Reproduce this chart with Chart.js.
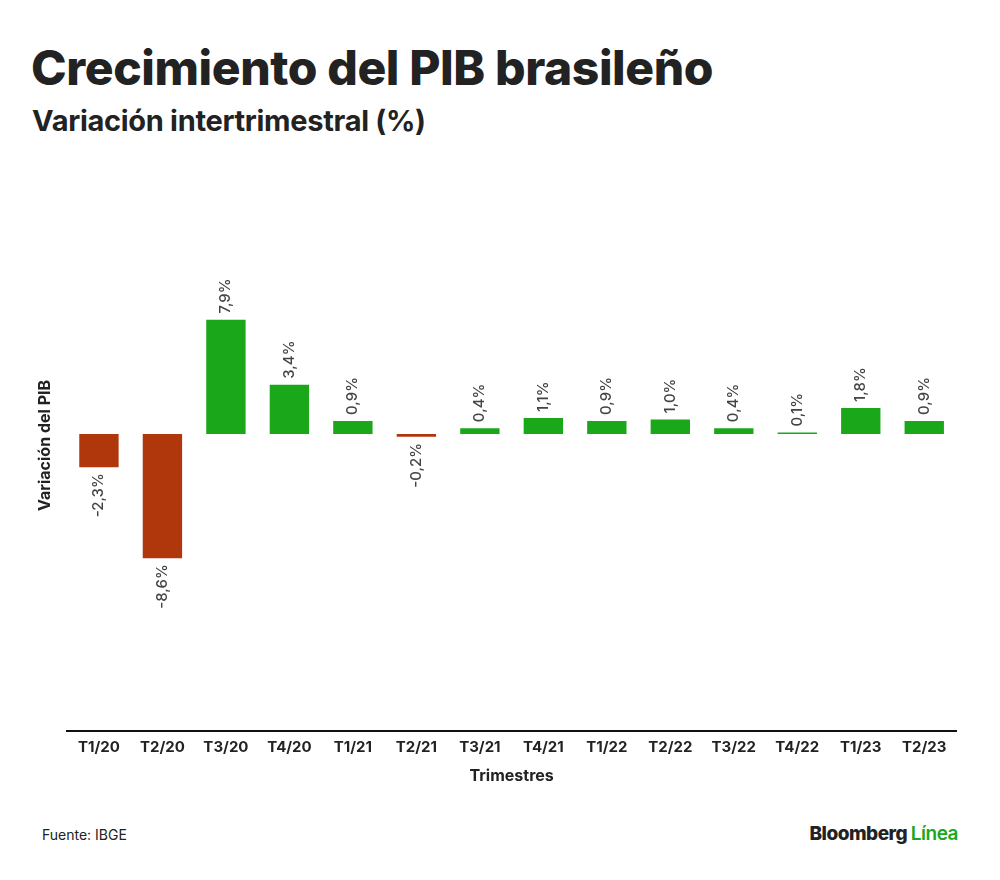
<!DOCTYPE html>
<html><head><meta charset="utf-8">
<script src="https://cdn.jsdelivr.net/npm/chart.js@4"></script>
<style>
body{margin:0;width:1000px;height:880px;background:#fff;font-family:Inter,"Open Sans",sans-serif;position:relative;color:#222}
h1{position:absolute;left:31px;top:38px;margin:0;font-size:48px;font-weight:800;letter-spacing:-0.4px}
h2{position:absolute;left:32px;top:103px;margin:0;font-size:29px;font-weight:700;letter-spacing:-0.3px}
#wrap{position:absolute;left:26px;top:160px;width:944px;height:630px}
.src{position:absolute;left:42px;top:826px;font-size:14px}
.brand{position:absolute;right:42px;top:822px;font-size:19px;font-weight:800;letter-spacing:-0.5px}
.brand span{color:#1aa81a;font-weight:600}
</style></head><body>
<h1>Crecimiento del PIB brasileño</h1>
<h2>Variación intertrimestral (%)</h2>
<div id="wrap"><canvas id="c"></canvas></div>
<div class="src">Fuente: IBGE</div>
<div class="brand">Bloomberg <span>Línea</span></div>
<script>
const trimestres = ['T1/20','T2/20','T3/20','T4/20','T1/21','T2/21','T3/21','T4/21','T1/22','T2/22','T3/22','T4/22','T1/23','T2/23'];
const variacion = [-2.3,-8.6,7.9,3.4,0.9,-0.2,0.4,1.1,0.9,1.0,0.4,0.1,1.8,0.9];

const etiquetas = {
  id: 'etiquetas',
  afterDatasetsDraw(chart) {
    const ctx = chart.ctx;
    const meta = chart.getDatasetMeta(0);
    ctx.save();
    ctx.font = '500 15px Inter, sans-serif';
    ctx.fillStyle = '#444';
    ctx.textBaseline = 'middle';
    meta.data.forEach((bar, i) => {
      const v = variacion[i];
      const txt = v.toFixed(1).replace('.', ',') + '%';
      ctx.save();
      ctx.translate(bar.x, bar.y + (v >= 0 ? -6 : 6));
      ctx.rotate(-Math.PI / 2);
      ctx.textAlign = v >= 0 ? 'left' : 'right';
      ctx.fillText(txt, 0, 0);
      ctx.restore();
    });
    ctx.restore();
  }
};

new Chart(document.getElementById('c'), {
  type: 'bar',
  data: {
    labels: trimestres,
    datasets: [{
      data: variacion,
      backgroundColor: variacion.map(v => v < 0 ? '#b0360c' : '#1aa81a'),
      categoryPercentage: 0.62,
      barPercentage: 1
    }]
  },
  options: {
    responsive: true,
    maintainAspectRatio: false,
    animation: false,
    layout: {padding: {left: 6, right: 14}},
    plugins: {legend: {display: false}, tooltip: {enabled: false}},
    scales: {
      x: {
        grid: {display: false, drawTicks: false},
        border: {display: true, color: '#111', width: 2},
        ticks: {color: '#222', font: {size: 15, weight: 'bold', family: 'Inter'}, padding: 8},
        title: {display: true, text: 'Trimestres', color: '#222', font: {size: 16, weight: 'bold', family: 'Inter'}, padding: {top: 2}}
      },
      y: {
        min: -20.55, max: 18.96,
        grid: {display: false},
        border: {display: false},
        ticks: {display: false},
        title: {display: true, text: 'Variación del PIB', color: '#222', font: {size: 16, weight: 'bold', family: 'Inter'}}
      }
    }
  },
  plugins: [etiquetas]
});
</script>
</body></html>
